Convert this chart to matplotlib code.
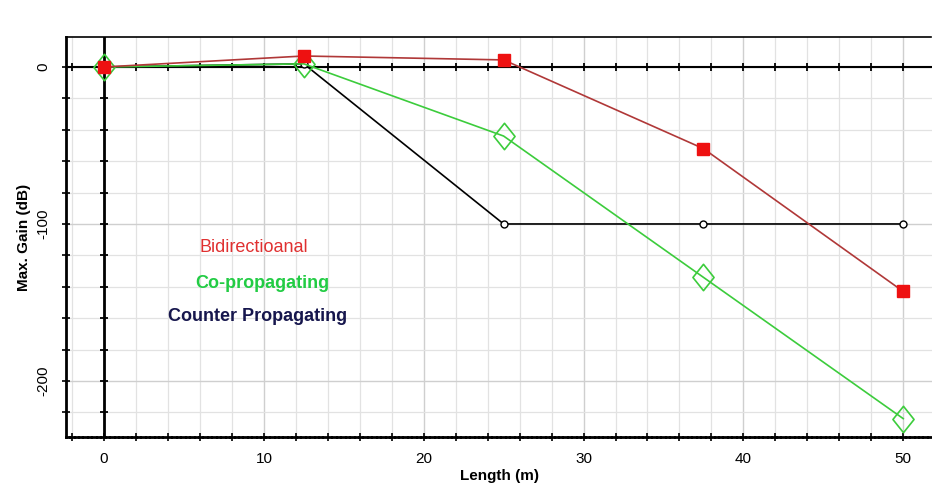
import numpy as np
import matplotlib
matplotlib.use("Agg")
import matplotlib.pyplot as plt
from matplotlib.ticker import MultipleLocator
from matplotlib.path import Path

plt.rcParams['font.family'] = ['Liberation Sans', 'DejaVu Sans']

length = [0, 12.5, 25, 37.5, 50]
bidirectional = [0, 7, 4.5, -52, -143]
co_prop = [0, 2, -44, -134, -224]
counter_prop = [0, 2, -100, -100, -100]

series_labels = ["Bidirectioanal", "Co-propagating", "Counter Propagating"]
x_ticks = [0, 10, 20, 30, 40, 50]
y_ticks = [0, -100, -200]

diamond = Path([(0, 1), (0.8, 0), (0, -1), (-0.8, 0), (0, 1)],
               [Path.MOVETO, Path.LINETO, Path.LINETO, Path.LINETO, Path.CLOSEPOLY])

fig = plt.figure(figsize=(9.32, 4.91), dpi=100)
ax = fig.add_axes([66/932, 1-437/491, 1-66/932, (437-37)/491])
ax.set_xlim(-2.38, 51.8)
ax.set_ylim(-235.7, 19.1)

# grid
ax.xaxis.set_major_locator(plt.FixedLocator(x_ticks))
ax.yaxis.set_major_locator(plt.FixedLocator(y_ticks))
ax.xaxis.set_minor_locator(MultipleLocator(2))
ax.yaxis.set_minor_locator(MultipleLocator(20))
ax.grid(which='minor', color='#e2e2e2', lw=0.9)
ax.grid(which='major', color='#cfcfcf', lw=1.0)
ax.set_axisbelow(True)

# zero lines with ticks
ax.axvline(0, color='black', lw=2, zorder=2)
ax.axhline(0, color='black', lw=1.5, zorder=2)
xt = np.arange(-2, 52, 2)
ax.plot(xt, np.zeros_like(xt), ls='none', marker='|', ms=6, mew=1.3, color='black', zorder=2)
yt = np.arange(-220, 20, 20)
ax.plot(np.zeros_like(yt), yt, ls='none', marker='_', ms=6, mew=1.3, color='black', zorder=2)

# series
ax.plot(length, counter_prop, color='black', lw=1.2, marker='o', ms=5,
        mfc='white', mec='black', mew=1, zorder=3)
ax.plot(length, co_prop, color='#3ccc3c', lw=1.2, marker=diamond, ms=19,
        mfc='none', mec='#3ccc3c', mew=1.2, zorder=4)
ax.plot(length, bidirectional, color='#b03838', lw=1.2, marker='s', ms=9,
        mfc='#ee1111', mec='#ee1111', zorder=5)

# text labels
ax.text(6.0, -115, series_labels[0], color='#e03030', fontsize=13, va='center')
ax.text(5.7, -138, series_labels[1], color='#22cc44', fontsize=13, fontweight='bold', va='center')
ax.text(4.0, -159, series_labels[2], color='#16164d', fontsize=13, fontweight='bold', va='center')

# spines
for s in ['left', 'bottom']:
    ax.spines[s].set_color('black')
ax.spines['left'].set_linewidth(2)
ax.spines['bottom'].set_linewidth(2)
ax.spines['bottom'].set_linestyle((0, (1, 0.6)))
ax.spines['top'].set_linestyle((0, (1, 1)))
ax.spines['top'].set_linewidth(1.2)
ax.spines['right'].set_visible(False)

ax.tick_params(axis='x', which='both', direction='inout', length=6, width=1.2,
               labelsize=11, pad=8, colors='black')
ax.tick_params(axis='y', which='both', direction='inout', length=6, width=1.2,
               labelsize=11, pad=8)
ax.set_yticklabels([str(v) for v in y_ticks], rotation=90, va='center')
ax.set_xticklabels([str(v) for v in x_ticks])

ax.set_xlabel("Length (m)", fontsize=11, fontweight='bold', labelpad=2)
ax.set_ylabel("Max. Gain (dB)", fontsize=11, fontweight='bold', labelpad=4)

fig.savefig("out.png", dpi=100)
